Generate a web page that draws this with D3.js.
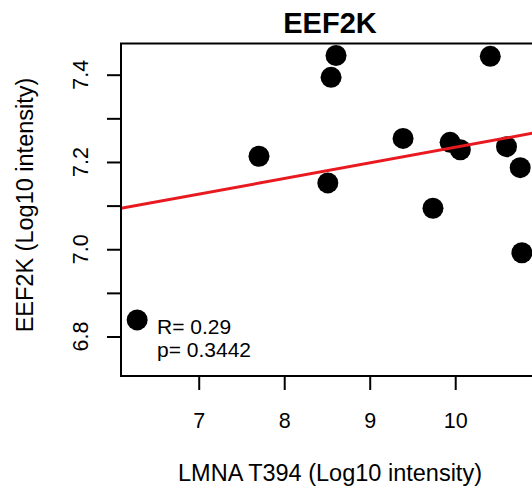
<!DOCTYPE html>
<html>
<head>
<meta charset="utf-8">
<script src="https://cdn.jsdelivr.net/npm/d3@7"></script>
<style>
  html, body { margin: 0; padding: 0; background: #fff; }
  svg { display: block; font-family: "Liberation Sans", Arial, sans-serif; }
</style>
</head>
<body>
<svg id="chart" width="532" height="493"></svg>
<script>
// LMNA T394 vs EEF2K, log10 intensities per sample
const lmnaT394 = [6.28, 7.705, 8.51, 8.548, 8.606, 9.39, 9.74, 9.94, 10.06, 10.41, 10.60, 10.76, 10.78];
const eef2k    = [6.838, 7.213, 7.152, 7.394, 7.444, 7.254, 7.094, 7.245, 7.228, 7.442, 7.235, 7.187, 6.992];

// least-squares fit: intercept and slope
const fitIntercept = 6.8756;
const fitSlope = 0.0358;

const xTicks = [7, 8, 9, 10];
const yTicks = [6.8, 6.9, 7.0, 7.1, 7.2, 7.3, 7.4];
const yTickLabels = [6.8, 7.0, 7.2, 7.4];

const titleText = "EEF2K";
const xTitle = "LMNA T394 (Log10 intensity)";
const yTitle = "EEF2K (Log10 intensity)";
const statR = "R= 0.29";
const statP = "p= 0.3442";

const svg = d3.select("#chart");
const plot = { left: 121, top: 43.5, right: 539, bottom: 376 };

const x = d3.scaleLinear().domain([6.091, 10.98]).range([plot.left, plot.right]);
const y = d3.scaleLinear().domain([6.7095, 7.4715]).range([plot.bottom, plot.top]);

// points
svg.append("g").selectAll("circle")
  .data(lmnaT394.map((v, i) => [v, eef2k[i]]))
  .join("circle")
  .attr("cx", d => x(d[0]))
  .attr("cy", d => y(d[1]))
  .attr("r", 10.5)
  .attr("fill", "#000");

// regression line across the full plot width
const [x0, x1] = x.domain();
svg.append("clipPath").attr("id", "plotclip")
  .append("rect")
  .attr("x", plot.left).attr("y", plot.top)
  .attr("width", plot.right - plot.left).attr("height", plot.bottom - plot.top);
svg.append("line")
  .attr("clip-path", "url(#plotclip)")
  .attr("x1", x(x0)).attr("y1", y(fitIntercept + fitSlope * x0))
  .attr("x2", x(x1)).attr("y2", y(fitIntercept + fitSlope * x1))
  .attr("stroke", "#e8191f")
  .attr("stroke-width", 3);

// frame
svg.append("rect")
  .attr("x", plot.left).attr("y", plot.top)
  .attr("width", plot.right - plot.left).attr("height", plot.bottom - plot.top)
  .attr("fill", "none").attr("stroke", "#000").attr("stroke-width", 2);

// x axis
const xAxis = svg.append("g")
  .attr("transform", `translate(0,${plot.bottom})`)
  .call(d3.axisBottom(x).tickValues(xTicks).tickSize(14).tickFormat(d3.format("d")));
xAxis.select(".domain").remove();
xAxis.selectAll(".tick line").attr("stroke-width", 2);
xAxis.selectAll(".tick text")
  .attr("y", 52).attr("dy", 0)
  .attr("font-size", 21.5).attr("fill", "#000")
  .attr("font-family", "Liberation Sans, Arial, sans-serif");

// y axis
const yAxis = svg.append("g")
  .attr("transform", `translate(${plot.left},0)`)
  .call(d3.axisLeft(y).tickValues(yTicks).tickSize(14).tickFormat(() => ""));
yAxis.select(".domain").remove();
yAxis.selectAll(".tick line").attr("stroke-width", 2);

svg.append("g").selectAll("text")
  .data(yTickLabels)
  .join("text")
  .attr("transform", d => `translate(88,${y(d)}) rotate(-90)`)
  .attr("text-anchor", "middle")
  .attr("font-size", 21.5)
  .attr("fill", "#000")
  .text(d => d3.format(".1f")(d));

// titles
svg.append("text")
  .attr("x", 330).attr("y", 33)
  .attr("text-anchor", "middle")
  .attr("font-size", 29).attr("font-weight", "bold")
  .text(titleText);

svg.append("text")
  .attr("x", 330).attr("y", 481)
  .attr("text-anchor", "middle")
  .attr("font-size", 23.5)
  .text(xTitle);

svg.append("text")
  .attr("transform", "translate(32.5,205) rotate(-90)")
  .attr("text-anchor", "middle")
  .attr("font-size", 23.5)
  .text(yTitle);

// correlation statistics
svg.append("text").attr("x", 157).attr("y", 334).attr("font-size", 21).text(statR);
svg.append("text").attr("x", 157).attr("y", 357).attr("font-size", 21).text(statP);
</script>
</body>
</html>
